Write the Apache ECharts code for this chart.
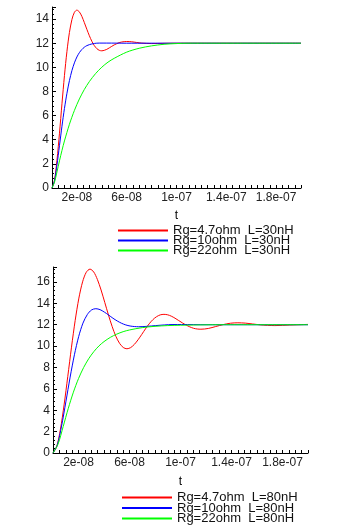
<!DOCTYPE html>
<html><head><meta charset="utf-8">
<script src="https://cdn.jsdelivr.net/npm/echarts@6/dist/echarts.min.js"></script>
<style>html,body{margin:0;padding:0;background:#fff}#c{width:362px;height:530px}</style>
</head><body><div id="c"></div>
<script>
// time in ns, values in volts
var xTickValues = [20, 60, 100, 140, 180];
var xTickLabels = ['2e-08', '6e-08', '1e-07', '1.4e-07', '1.8e-07'];
var legendTop = ['Rg=4.7ohm  L=30nH', 'Rg=10ohm  L=30nH', 'Rg=22ohm  L=30nH'];
var legendBottom = ['Rg=4.7ohm  L=80nH', 'Rg=10ohm  L=80nH', 'Rg=22ohm  L=80nH'];

// top chart (L = 30nH)
var topRedT = [0,2,4,6,8,10,12,14,16,18,20,22,24,26,28,30,32,34,36,38,40,42,44,46,48,50,52,54,56,58,60,64,68,72,80,90,100,200];
var topRedV = [0,0.65,2.31,4.54,6.98,9.31,11.32,12.89,13.96,14.56,14.74,14.59,14.22,13.70,13.15,12.62,12.16,11.80,11.55,11.41,11.37,11.41,11.49,11.61,11.74,11.86,11.96,12.05,12.10,12.13,12.14,12.12,12.06,12.01,11.97,11.99,12.0,12.0];
var topBlueT = [0,2,4,6,8,10,12,14,16,18,20,22,24,26,28,30,34,38,44,60,200];
var topBlueV = [0,0.59,1.91,3.51,5.12,6.59,7.85,8.90,9.73,10.37,10.86,11.22,11.48,11.67,11.80,11.88,11.98,12.01,12.01,12.0,12.0];
var topGreenT = [0,2,4,6,8,10,14,18,22,26,30,35,40,45,50,60,70,80,90,100,110,200];
var topGreenV = [0,0.48,1.34,2.25,3.11,3.90,5.28,6.43,7.38,8.17,8.82,9.48,10.01,10.43,10.75,11.26,11.58,11.78,11.91,11.97,12.0,12.0];

// bottom chart (L = 80nH)
var botRedT = [0,2.9,5.8,8.7,11.6,14.5,17.4,20.3,23.2,26.1,29,31.9,34.8,37.7,40.6,43.5,46.4,49.3,52.2,55.1,58,60.9,63.8,66.7,69.6,72.5,75.4,78.3,81.2,84.1,87,89.9,92.8,95.7,98.6,101.5,104.4,107.3,110.2,113.1,116,121.8,127.6,133.4,139.2,145,150.8,156.6,162.4,168.2,174,185.6,200];
var botRedV = [0,0.60,2.20,4.50,7.17,9.90,12.40,14.49,16.01,16.91,17.20,16.94,16.24,15.25,14.09,12.91,11.83,10.92,10.26,9.87,9.75,9.86,10.16,10.59,11.09,11.61,12.08,12.47,12.75,12.92,12.97,12.93,12.80,12.61,12.39,12.17,11.97,11.80,11.67,11.60,11.58,11.65,11.83,12.01,12.14,12.18,12.15,12.07,11.99,11.94,11.92,11.97,12.03];
var botBlueT = [0,3.36,6.72,10.08,13.44,16.8,20.15,23.5,26.9,30.2,33.6,36.9,40.3,43.7,47,50.4,53.7,57.1,60.5,63.8,67.2,73.9,80.6,87.3,94.1,100.8,120,200];
var botBlueV = [0,0.74,2.52,4.78,7.10,9.19,10.90,12.15,12.95,13.38,13.50,13.41,13.18,12.90,12.61,12.35,12.14,11.98,11.88,11.83,11.81,11.85,11.92,11.98,12.02,12.02,12.0,12.0];
var botGreenT = [0,4,8,12,16,20,24,28,32,36,40,45,50,55,60,70,80,90,100,120,140,200];
var botGreenV = [0,0.85,2.48,4.18,5.69,6.96,7.99,8.82,9.48,10.01,10.42,10.82,11.12,11.35,11.51,11.73,11.85,11.92,11.95,11.99,12.0,12.0];

function pairs(t, v) { return t.map(function (x, i) { return [x, v[i]]; }); }
var minorX = [];
for (var k = 0; k <= 200; k += 5) minorX.push(k);

var FONT = '"Liberation Sans", Arial, sans-serif';
function xAxis(gi, nameGap) {
  return {
    gridIndex: gi, type: 'value', min: 0, max: 200,
    name: 't', nameLocation: 'middle', nameGap: nameGap,
    nameTextStyle: { color: '#000', fontFamily: FONT, fontSize: 12 },
    axisLine: { lineStyle: { color: '#000', width: 1 } },
    axisTick: { show: true, inside: true, length: 3, customValues: minorX, lineStyle: { color: '#000' } },
    axisLabel: {
      customValues: xTickValues, margin: 4, color: '#222', fontFamily: FONT, fontSize: 12,
      formatter: function (v) { var i = xTickValues.indexOf(v); return i >= 0 ? xTickLabels[i] : ''; }
    },
    splitLine: { show: false }
  };
}
function yAxis(gi, max) {
  return {
    gridIndex: gi, type: 'value', min: 0, max: max, interval: 2,
    axisLine: { show: true, lineStyle: { color: '#000', width: 1 } },
    axisTick: { show: true, inside: true, length: 4, lineStyle: { color: '#000' } },
    minorTick: { show: true, splitNumber: 5, length: 2, lineStyle: { color: '#000' } },
    axisLabel: { showMaxLabel: false, margin: 3, color: '#222', fontFamily: FONT, fontSize: 12 },
    splitLine: { show: false }
  };
}
function line(name, color, data, xi) {
  return {
    name: name, type: 'line', xAxisIndex: xi, yAxisIndex: xi, data: data,
    showSymbol: false, smooth: 0.3, lineStyle: { color: color, width: 1 }, itemStyle: { color: color },
    animation: false
  };
}
function legend(names, pos, gap) {
  var l = {
    data: names, orient: 'vertical', itemGap: gap, padding: 0,
    itemWidth: 50, itemHeight: 2, icon: 'rect', itemTextGap: 16,
    textStyle: { color: '#111', fontFamily: FONT, fontSize: 13, lineHeight: 10 }
  };
  for (var key in pos) l[key] = pos[key];
  return l;
}

var chart = echarts.init(document.getElementById('c'), null, { renderer: 'canvas' });
chart.setOption({
  backgroundColor: '#fff',
  animation: false,
  grid: [
    { left: 52, top: 7, width: 249, height: 181 },
    { left: 53, top: 267, width: 255, height: 186 }
  ],
  xAxis: [xAxis(0, 22), xAxis(1, 23)],
  yAxis: [yAxis(0, 15), yAxis(1, 17.4)],
  legend: [legend(legendTop, { left: 118, top: 224 }, -3), legend(legendBottom, { left: 122, bottom: 5 }, -2.5)],
  series: [
    line(legendTop[0], '#ff0000', pairs(topRedT, topRedV), 0),
    line(legendTop[1], '#0000ff', pairs(topBlueT, topBlueV), 0),
    line(legendTop[2], '#00ff00', pairs(topGreenT, topGreenV), 0),
    line(legendBottom[0], '#ff0000', pairs(botRedT, botRedV), 1),
    line(legendBottom[1], '#0000ff', pairs(botBlueT, botBlueV), 1),
    line(legendBottom[2], '#00ff00', pairs(botGreenT, botGreenV), 1)
  ]
});
</script></body></html>
